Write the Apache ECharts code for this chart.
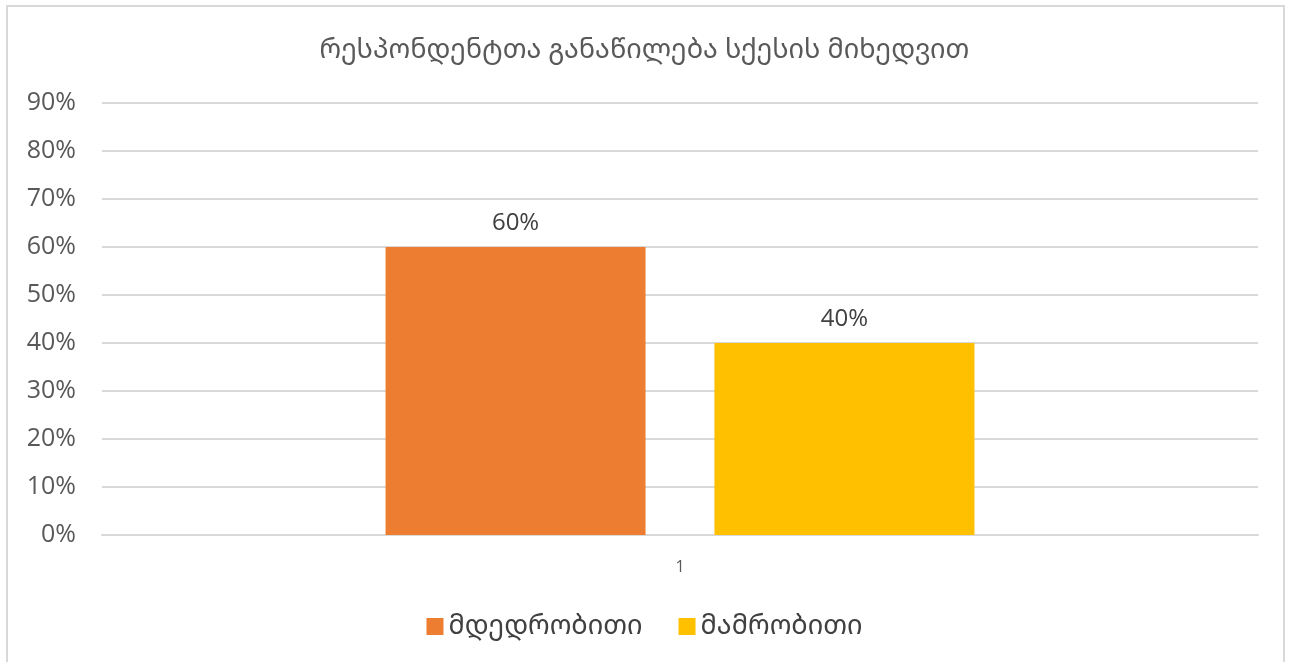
<!DOCTYPE html>
<html>
<head>
<meta charset="utf-8">
<script src="https://cdn.jsdelivr.net/npm/echarts@6/dist/echarts.min.js"></script>
<style>
html,body{margin:0;padding:0;background:#fff;}
#frame{position:absolute;left:6px;top:5px;width:1279px;height:700px;border:2px solid #d9d9d9;box-sizing:border-box;}
#chart{position:absolute;left:0;top:0;width:1289px;height:662px;}
</style>
</head>
<body>
<div id="frame"></div>
<div id="chart"></div>
<script>
const titleText = 'რესპონდენტთა განაწილება სქესის მიხედვით';
const categories = ['1'];
const seriesNames = ['მდედრობითი', 'მამრობითი'];
const femaleValues = [60];
const maleValues = [40];
const colors = ['#ED7D31', '#FFC000'];

const FONT = '"Open Sans", sans-serif';
const GEO = '"Noto Sans Georgian", "DejaVu Sans", sans-serif';
const chart = echarts.init(document.getElementById('chart'), null, {renderer: 'canvas'});
const labelStyle = {
  show: true, position: 'top', distance: 12,
  formatter: p => p.value + '%',
  color: '#404040', fontSize: 24, fontFamily: FONT
};
chart.setOption({
  backgroundColor: 'transparent',
  animation: false,
  title: {
    text: titleText, left: 'center', top: 32,
    textStyle: {color: '#595959', fontSize: 27, fontWeight: 'normal', fontFamily: GEO}
  },
  legend: {
    bottom: 17, left: 'center', itemWidth: 17, itemHeight: 17, itemGap: 36,
    icon: 'rect',
    textStyle: {color: '#404040', fontSize: 27, fontFamily: GEO},
    data: seriesNames
  },
  grid: {left: 102, right: 31, top: 103, bottom: 127, containLabel: false},
  xAxis: {
    type: 'category', data: categories,
    axisLine: {show: true, lineStyle: {color: '#d9d9d9', width: 2}},
    axisTick: {show: false},
    axisLabel: {color: '#595959', fontSize: 16, fontFamily: FONT, margin: 24}
  },
  yAxis: {
    type: 'value', min: 0, max: 90, interval: 10,
    axisLine: {show: false}, axisTick: {show: false},
    axisLabel: {formatter: v => v + '%', color: '#595959', fontSize: 25, fontFamily: FONT, margin: 26},
    splitLine: {lineStyle: {color: '#d9d9d9', width: 2}}
  },
  series: [
    {name: seriesNames[0], type: 'bar', data: femaleValues, barWidth: 260, barGap: '26.5%',
     itemStyle: {color: colors[0]}, label: labelStyle},
    {name: seriesNames[1], type: 'bar', data: maleValues, barWidth: 260, barGap: '26.5%',
     itemStyle: {color: colors[1]}, label: labelStyle}
  ]
});
</script>
</body>
</html>
